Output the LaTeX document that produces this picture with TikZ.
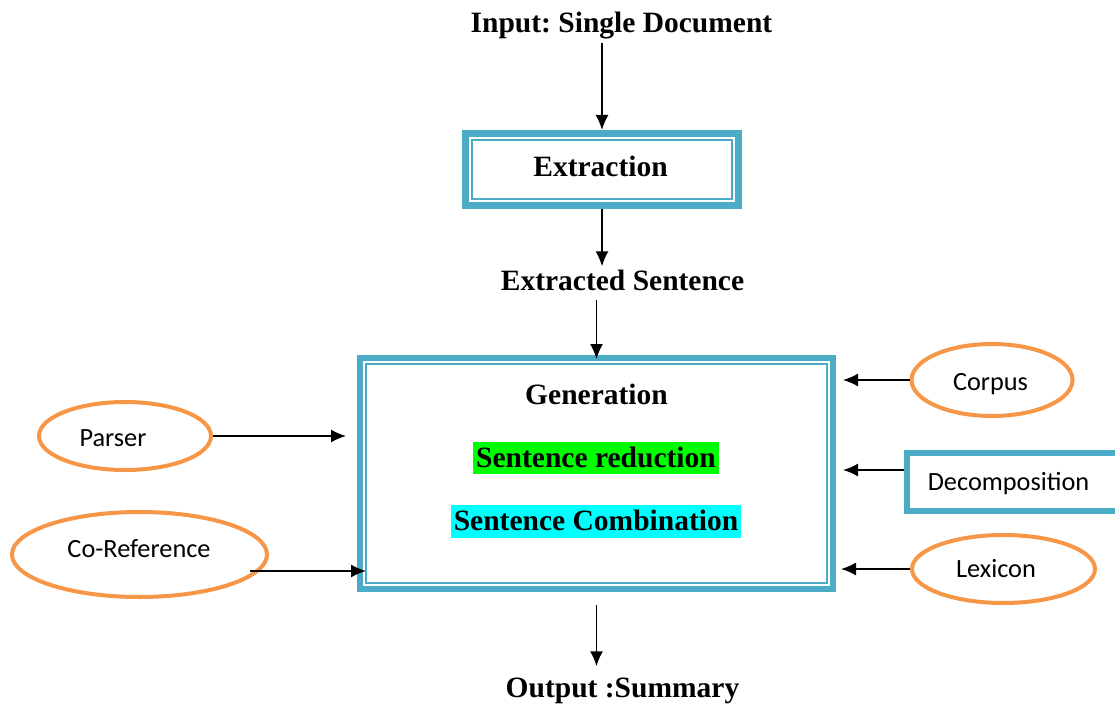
\documentclass[tikz,border=0pt]{standalone}
\usepackage{fontspec}
\setmainfont{Liberation Serif}
\newfontfamily\calfont{Carlito}
\usetikzlibrary{arrows.meta,shapes.geometric}
\definecolor{boxblue}{HTML}{4BACC6}
\definecolor{ellorange}{HTML}{F79646}
\definecolor{hlgreen}{HTML}{00FF00}
\definecolor{hlcyan}{HTML}{00FFFF}
\frenchspacing
\begin{document}
\begin{tikzpicture}[x=1pt,y=-1pt,
  bt/.style={font=\fontsize{29.5}{32}\selectfont\bfseries, inner sep=3pt},
  st/.style={font=\calfont\fontsize{26.3}{30}\selectfont, inner sep=0pt},
  dblbox/.style={draw=boxblue, inner sep=0pt},
  innerline/.style={draw=boxblue, line width=2pt},
  ell/.style={ellipse, draw=ellorange, line width=4pt, inner sep=0pt},
  arr/.style={-{Latex[length=15pt,width=13pt]}, line width=1.6pt, black},
  hl/.style={bt, inner xsep=3pt, inner ysep=1pt, text height=24pt}
]
\fill[white] (0,0) rectangle (1115,706);
\useasboundingbox (0,0) rectangle (1115,706);

% top
\node[bt, anchor=base] (in) at (621.5,33) {Input: Single Document};

% Extraction box
\node[dblbox, line width=7pt, minimum width=273pt, minimum height=72pt] (ext) at (602,169.5) {};
\draw[innerline] ([shift={(10,10)}]ext.north west) rectangle ([shift={(-10,-10)}]ext.south east);
\node[bt, anchor=base] (extt) at (600.5,176) {Extraction};

\node[bt, anchor=base] (es) at (622.5,290) {Extracted Sentence};

% Generation box
\node[dblbox, line width=6pt, minimum width=473pt, minimum height=231pt] (gen) at (596.5,473.5) {};
\draw[innerline] ([shift={(9,9)}]gen.north west) rectangle ([shift={(-9,-9)}]gen.south east);
\node[bt, anchor=base] (gent) at (596.5,404) {Generation};
\node[hl, fill=hlgreen, text depth=6pt, anchor=base] (red) at (596,467) {Sentence reduction};
\node[hl, fill=hlcyan, text depth=7pt, anchor=base] (comb) at (596,530) {Sentence Combination};

\node[bt, anchor=base] (out) at (622.5,697) {Output :Summary};

% Decomposition box
\node[dblbox, line width=6pt, minimum width=220pt, minimum height=58pt, anchor=west] (dec) at (904,482) {};
\node[st, anchor=base] (dect) at (1008.5,490) {Decomposition};

% ellipses
\node[ell, minimum width=172pt, minimum height=68pt] (parser) at (125,436) {};
\node[st, anchor=base] (parsert) at (113,446) {Parser};
\node[ell, minimum width=161pt, minimum height=72pt] (corpus) at (992,380) {};
\node[st, anchor=base] (corpust) at (990.5,390) {Corpus};
\node[ell, minimum width=255pt, minimum height=85pt] (coref) at (139.5,554.5) {};
\node[st, anchor=base] (coreft) at (139,557) {Co-Reference};
\node[ell, minimum width=183pt, minimum height=68pt] (lex) at (1003.5,569) {};
\node[st, anchor=base] (lext) at (996,577) {Lexicon};

% vertical arrows
\draw[arr] (ext.north |- in.south) -- (ext.north);
\draw[arr] (ext.south) -- (ext.south |- es.north);
\draw[arr, shorten <=7pt, shorten >=-4pt] (gen.north |- es.south) -- (gen.north);
\draw[arr, shorten <=13pt, shorten >=8pt] (gen.south) -- (gen.south |- out.north);

% horizontal arrows
\coordinate (decin) at ([shift={(0,-12)}]dec.west);
\coordinate (corefout) at ([shift={(110,16.5)}]coref.center);
\draw[arr, shorten >=11pt] (parser.east) -- (parser.east -| gen.west);
\draw[arr, shorten >=7pt] (corpus.west) -- (corpus.west -| gen.east);
\draw[arr, shorten >=7pt] (decin) -- (decin -| gen.east);
\draw[arr, shorten >=5pt] (lex.west) -- (lex.west -| gen.east);
\draw[arr, shorten >=-9pt] (corefout) -- (corefout -| gen.west);
\end{tikzpicture}
\end{document}
